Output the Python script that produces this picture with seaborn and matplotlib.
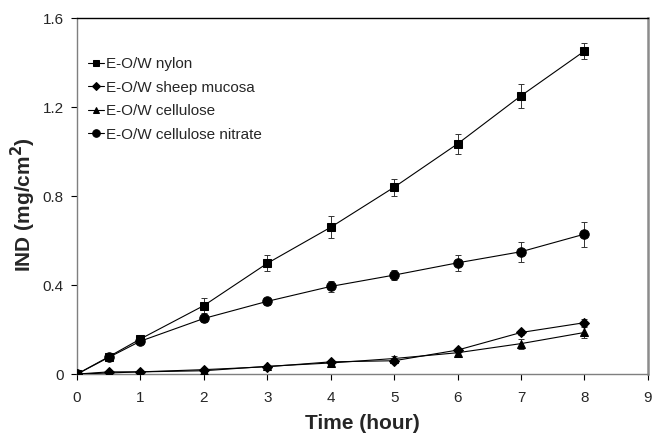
import matplotlib
matplotlib.use("Agg")
import matplotlib.pyplot as plt
import seaborn as sns
import pandas as pd

time_h = [0, 0.5, 1, 2, 3, 4, 5, 6, 7, 8]

series_names = ["E-O/W nylon", "E-O/W sheep mucosa", "E-O/W cellulose", "E-O/W cellulose nitrate"]

nylon = [0, 0.078, 0.158, 0.308, 0.498, 0.66, 0.84, 1.035, 1.251, 1.452]
nylon_err = [0, 0.01, 0.012, 0.033, 0.035, 0.05, 0.039, 0.046, 0.054, 0.037]

mucosa = [0, 0.01, 0.01, 0.02, 0.033, 0.055, 0.06, 0.108, 0.187, 0.231]
mucosa_err = [0, 0.003, 0.003, 0.005, 0.005, 0.01, 0.008, 0.01, 0.012, 0.015]

cellulose = [0, 0.005, 0.01, 0.015, 0.035, 0.05, 0.07, 0.096, 0.137, 0.187]
cellulose_err = [0, 0.003, 0.003, 0.005, 0.005, 0.01, 0.01, 0.012, 0.022, 0.025]

nitrate = [0, 0.075, 0.148, 0.25, 0.327, 0.394, 0.445, 0.50, 0.55, 0.629]
nitrate_err = [0, 0.005, 0.01, 0.015, 0.015, 0.025, 0.022, 0.036, 0.044, 0.056]

x_ticks = [0, 1, 2, 3, 4, 5, 6, 7, 8, 9]
y_ticks = [0, 0.4, 0.8, 1.2, 1.6]
y_tick_labels = ["0", "0.4", "0.8", "1.2", "1.6"]

values = [nylon, mucosa, cellulose, nitrate]
errors = [nylon_err, mucosa_err, cellulose_err, nitrate_err]

rows = []
for name, ys, es in zip(series_names, values, errors):
    for t, v, e in zip(time_h, ys, es):
        rows.append({"Time": t, "IND": v, "err": e, "series": name})
df = pd.DataFrame(rows)

sns.set_style("ticks")
plt.rcParams["font.family"] = ["Liberation Sans", "DejaVu Sans"]

fig = plt.figure(figsize=(6.6, 4.36), dpi=100)
ax = fig.add_axes([0.1167, 0.142, 0.865, 0.8165])

# error bars first, so markers sit on top
for name in series_names:
    d = df[df["series"] == name]
    ax.errorbar(d["Time"], d["IND"], yerr=d["err"], fmt="none",
                ecolor="#333333", elinewidth=0.7, capsize=2, capthick=0.7, zorder=2)

markers = {"E-O/W nylon": "s", "E-O/W sheep mucosa": "D",
           "E-O/W cellulose": "^", "E-O/W cellulose nitrate": "o"}
sizes = {"E-O/W nylon": 6.2, "E-O/W sheep mucosa": 4.8,
         "E-O/W cellulose": 6.2, "E-O/W cellulose nitrate": 6.8}
for name in series_names:
    d = df[df["series"] == name]
    sns.lineplot(data=d, x="Time", y="IND", ax=ax, color="black", linewidth=0.8,
                 marker=markers[name], markersize=sizes[name], markeredgecolor="black",
                 markerfacecolor="black", label=name, zorder=3)

ax.set_xlim(0, 9)
ax.set_ylim(0, 1.6)
ax.set_xticks(x_ticks)
ax.set_xticklabels([str(v) for v in x_ticks])
ax.set_yticks(y_ticks)
ax.set_yticklabels(y_tick_labels)
ax.tick_params(axis="both", direction="out", length=4.5, width=0.8, color="black",
               labelsize=11)
ax.tick_params(axis="x", pad=8)
ax.tick_params(axis="y", pad=5)

ax.set_xlabel("Time (hour)", fontsize=15, fontweight="bold", labelpad=6)
ax.set_ylabel("IND (mg/cm$^\\mathbf{2}$)", fontsize=15, fontweight="bold")
ax.yaxis.set_label_coords(-0.068, 0.475)

for side in ["left", "bottom"]:
    ax.spines[side].set_color("#7f7f7f")
    ax.spines[side].set_linewidth(1.0)
ax.spines["top"].set_visible(True)
ax.spines["top"].set_color("black")
ax.spines["top"].set_linewidth(1.0)
ax.spines["right"].set_visible(True)
ax.spines["right"].set_color("#8c8c8c")
ax.spines["right"].set_linewidth(1.8)

ax.legend(loc="upper left", bbox_to_anchor=(0.019, 0.89), frameon=False,
          fontsize=11, handlelength=1.05, handletextpad=0.15, labelspacing=0.62,
          borderpad=0, borderaxespad=0, markerscale=0.8)

fig.savefig("out.png", dpi=100)
